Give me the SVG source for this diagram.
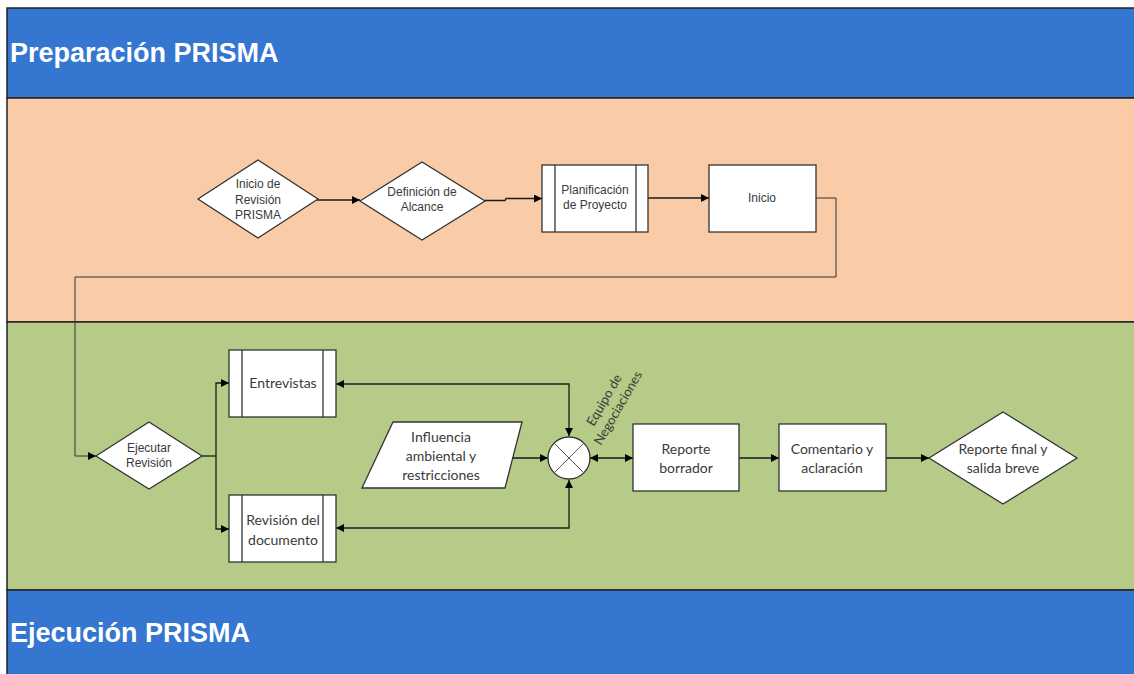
<svg xmlns="http://www.w3.org/2000/svg" width="1134" height="674" viewBox="0 0 1134 674">
<defs>
<style>
.lane-title{font-family:"Liberation Sans",Arial,sans-serif;font-weight:bold;font-size:27px;fill:#ffffff}
.node{fill:#ffffff;stroke:#333333;stroke-width:1.3}
.t1{font-family:"Liberation Sans",Arial,sans-serif;font-size:12px;fill:#3a3a3a;text-anchor:middle}
.t2{font-family:Lato,"Liberation Sans",sans-serif;font-size:14px;fill:#3a3a3a;text-anchor:middle}
.conn{fill:none;stroke:#1a1a1a;stroke-width:1.3}
.thin{fill:none;stroke:#333333;stroke-width:1}
</style>
<marker id="ah" viewBox="0 0 10 10" refX="10" refY="5" markerWidth="8" markerHeight="8" markerUnits="userSpaceOnUse" orient="auto-start-reverse">
<path d="M0,0 L10,5 L0,10 z" fill="#000000"/>
</marker>
</defs>
<rect x="0" y="0" width="1134" height="674" fill="#ffffff"/>
<g id="lanes">
<rect x="7" y="8" width="1140" height="90" fill="#3476D0" stroke="#222" stroke-width="1.5"/>
<rect x="7" y="98" width="1140" height="224" fill="#F9CBA7" stroke="#222" stroke-width="1.5"/>
<rect x="7" y="322" width="1140" height="268" fill="#B5CB87" stroke="#222" stroke-width="1.5"/>
<rect x="7" y="590" width="1140" height="90" fill="#3476D0" stroke="#222" stroke-width="1.5"/>
<text class="lane-title" x="10" y="62">Preparación PRISMA</text>
<text class="lane-title" x="10" y="642">Ejecución PRISMA</text>
</g>
<g id="connectors">
<path class="conn" d="M317,200 L360,200" marker-end="url(#ah)"/>
<path class="conn" d="M485,200.5 L505,200.5 L506,198.5 L542,198.5" marker-end="url(#ah)"/>
<path class="conn" d="M648,198 L709,198" marker-end="url(#ah)"/>
<path class="thin" d="M816,198 L836,198 L836,277 L75,277 L75,456 L96,456" marker-end="url(#ah)"/>
<path class="conn" d="M202,456 L216,456"/>
<path class="conn" d="M216,456 L216,383 L229,383" marker-end="url(#ah)"/>
<path class="conn" d="M216,456 L216,529 L229,529" marker-end="url(#ah)"/>
<path class="conn" d="M336,384 L569,384 L569,436" marker-start="url(#ah)" marker-end="url(#ah)"/>
<path class="conn" d="M336,528 L569,528 L569,480" marker-start="url(#ah)" marker-end="url(#ah)"/>
<path class="conn" d="M505,458 L548,458" marker-end="url(#ah)"/>
<path class="conn" d="M590,458 L633,458" marker-start="url(#ah)" marker-end="url(#ah)"/>
<path class="conn" d="M739,458 L779,458" marker-end="url(#ah)"/>
<path class="conn" d="M886,458 L929,458" marker-end="url(#ah)"/>
</g>
<g id="inicio-revision">
<polygon class="node" points="198,199 258,160 318,199 258,238"/>
<text class="t1" x="258" y="188">Inicio de</text>
<text class="t1" x="258" y="204">Revisión</text>
<text class="t1" x="258" y="219">PRISMA</text>
</g>
<g id="definicion-alcance">
<polygon class="node" points="360,201 422,162 485,201 422,240"/>
<text class="t1" x="422" y="196">Definición de</text>
<text class="t1" x="422" y="211">Alcance</text>
</g>
<g id="planificacion">
<rect class="node" x="542" y="165" width="106" height="67"/>
<line class="node" x1="555" y1="165" x2="555" y2="232"/>
<line class="node" x1="636" y1="165" x2="636" y2="232"/>
<text class="t1" x="595" y="194">Planificación</text>
<text class="t1" x="595" y="209">de Proyecto</text>
</g>
<g id="inicio">
<rect class="node" x="709" y="165" width="107" height="67"/>
<text class="t1" x="762" y="202">Inicio</text>
</g>
<g id="ejecutar-revision">
<polygon class="node" points="96,456 149,422 202,456 149,489"/>
<text class="t1" x="149" y="452">Ejecutar</text>
<text class="t1" x="149" y="467">Revisión</text>
</g>
<g id="entrevistas">
<rect class="node" x="229" y="350" width="107" height="67"/>
<line class="node" x1="242" y1="350" x2="242" y2="417"/>
<line class="node" x1="323" y1="350" x2="323" y2="417"/>
<text class="t2" x="283" y="388">Entrevistas</text>
</g>
<g id="revision-documento">
<rect class="node" x="229" y="495" width="107" height="67"/>
<line class="node" x1="242" y1="495" x2="242" y2="562"/>
<line class="node" x1="323" y1="495" x2="323" y2="562"/>
<text class="t2" x="283" y="525">Revisión del</text>
<text class="t2" x="283" y="545">documento</text>
</g>
<g id="influencia">
<polygon class="node" points="393,422 522,422 505,488 362,488"/>
<text class="t2" x="441" y="442">Influencia</text>
<text class="t2" x="441" y="461">ambiental y</text>
<text class="t2" x="441" y="480">restricciones</text>
</g>
<g id="equipo-negociaciones">
<circle class="node" cx="569" cy="458" r="21"/>
<line x1="554.2" y1="443.2" x2="583.8" y2="472.8" stroke="#555" stroke-width="1"/>
<line x1="583.8" y1="443.2" x2="554.2" y2="472.8" stroke="#555" stroke-width="1"/>
<g transform="translate(611,404) rotate(-60)">
<text class="t2" style="font-size:13px" x="0" y="-3.5">Equipo de</text>
<text class="t2" style="font-size:13px" x="0" y="12.5">Negociaciones</text>
</g>
</g>
<g id="reporte-borrador">
<rect class="node" x="633" y="424" width="106" height="67"/>
<text class="t2" x="686" y="454">Reporte</text>
<text class="t2" x="686" y="473">borrador</text>
</g>
<g id="comentario">
<rect class="node" x="779" y="424" width="107" height="67"/>
<text class="t2" x="832" y="454">Comentario y</text>
<text class="t2" x="832" y="473">aclaración</text>
</g>
<g id="reporte-final">
<polygon class="node" points="929,458 1003,412 1077,458 1003,504"/>
<text class="t2" x="1003" y="454">Reporte final y</text>
<text class="t2" x="1003" y="473">salida breve</text>
</g>
</svg>
